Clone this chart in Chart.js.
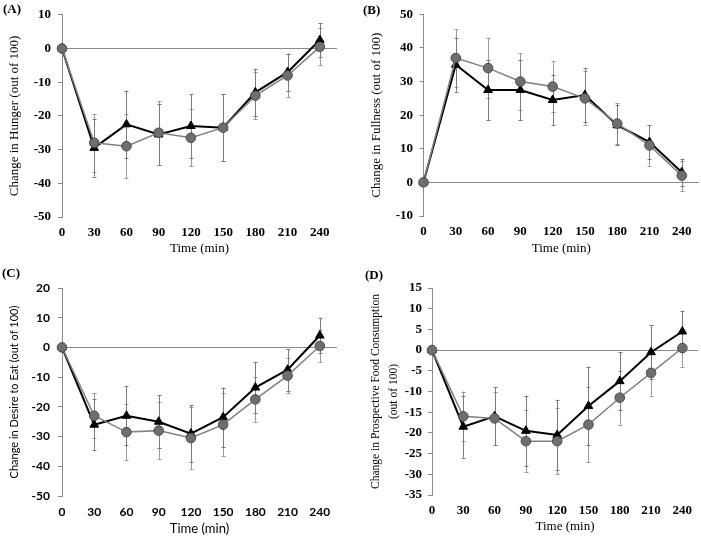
<!DOCTYPE html>
<html>
<head>
<meta charset="utf-8">
<script src="https://cdn.jsdelivr.net/npm/chart.js@4.4.1/dist/chart.umd.min.js"></script>
<style>
  html, body { margin:0; padding:0; background:#fff; }
  #wrap { position:relative; width:701px; height:538px; background:#fff; overflow:hidden; }
  canvas { position:absolute; }
  .pl { position:absolute; font:bold 13px "Liberation Serif", "Times New Roman", serif; color:#000; }
</style>
</head>
<body>
<div id="wrap">
  <canvas id="cA" width="350" height="268" style="left:0;top:0;width:350px;height:268px"></canvas>
  <canvas id="cB" width="351" height="268" style="left:350px;top:0;width:351px;height:268px"></canvas>
  <canvas id="cC" width="350" height="270" style="left:0;top:268px;width:350px;height:270px"></canvas>
  <canvas id="cD" width="351" height="270" style="left:350px;top:268px;width:351px;height:270px"></canvas>
  <div class="pl" style="left:3px;top:1px">(A)</div>
  <div class="pl" style="left:363px;top:2px">(B)</div>
  <div class="pl" style="left:2px;top:265px">(C)</div>
  <div class="pl" style="left:365px;top:267px">(D)</div>
</div>
<script>
// ---- data ----
const times = [0, 30, 60, 90, 120, 150, 180, 210, 240];

const hungerTri    = [0, -29.5, -22.5, -25.5, -23, -23.5, -13, -7, 2.5];
const hungerTriErr = [0, 8.5, 10, 9, 9.5, 10, 7, 5.5, 5];
const hungerCir    = [0, -28, -29, -25, -26.5, -23.5, -14, -8, 0.5];
const hungerCirErr = [0, 8.5, 9.5, 9.5, 8.5, 10, 7, 6.5, 5.5];

const fullTri    = [0, 35, 27.5, 27.5, 24.5, 26, 17, 12, 3];
const fullTriErr = [0, 8, 9, 9, 7.5, 8, 6, 5, 4];
const fullCir    = [0, 37, 34, 30, 28.5, 25, 17.5, 11, 2];
const fullCirErr = [0, 8.5, 9, 8.5, 7.5, 8, 6, 6, 4.5];

const desireTri    = [0, -26, -23, -25, -29, -23.5, -13.5, -7.5, 4];
const desireTriErr = [0, 8.5, 10, 9, 9.5, 10, 8.5, 7, 6];
const desireCir    = [0, -23, -28.5, -28, -30.5, -26, -17.5, -9.5, 0.5];
const desireCirErr = [0, 7.5, 9.5, 9.5, 10.5, 10.5, 7.5, 6, 5.5];

const pfcTri    = [0, -18.5, -16, -19.5, -20.5, -13.5, -7.5, -0.5, 4.5];
const pfcTriErr = [0, 7.5, 7, 8.5, 8.5, 9.5, 7, 6.5, 5];
const pfcCir    = [0, -16, -16.5, -22, -22, -18, -11.5, -5.5, 0.5];
const pfcCirErr = [0, 6, 6.5, 7.5, 8, 9, 6.5, 5.5, 4.5];

const yTicksA = { min: -50, max: 10, step: 10 };
const yTicksB = { min: -10, max: 50, step: 10 };
const yTicksC = { min: -50, max: 20, step: 10 };
const yTicksD = { min: -35, max: 15, step: 5 };

// ---- error bar plugin ----
const errorBars = {
  id: 'errorBars',
  beforeDatasetsDraw(chart) {
    const { ctx, scales: { x, y } } = chart;
    ctx.save();
    ctx.lineWidth = 1;
    chart.data.datasets.forEach(ds => {
      ctx.strokeStyle = ds.errColor;
      ds.data.forEach((pt, j) => {
        const e = ds.errors[j];
        if (!e) return;
        const px = Math.round(x.getPixelForValue(pt.x)) + 0.5;
        const yTop = y.getPixelForValue(pt.y + e);
        const yBot = y.getPixelForValue(pt.y - e);
        ctx.beginPath();
        ctx.moveTo(px, yTop); ctx.lineTo(px, yBot);
        ctx.moveTo(px - 2, Math.round(yTop) + 0.5); ctx.lineTo(px + 2, Math.round(yTop) + 0.5);
        ctx.moveTo(px - 2, Math.round(yBot) + 0.5); ctx.lineTo(px + 2, Math.round(yBot) + 0.5);
        ctx.stroke();
      });
    });
    ctx.restore();
  }
};

const SERIF = '"Liberation Serif", "Times New Roman", serif';
const SANS = 'Lato, "Open Sans", sans-serif';

function makePanel(id, cfg) {
  const toPts = arr => arr.map((v, i) => ({ x: times[i], y: v }));
  new Chart(document.getElementById(id), {
    type: 'line',
    data: {
      datasets: [
        {
          data: toPts(cfg.cir), errors: cfg.cirErr, errColor: '#9a9a9a',
          borderColor: '#808080', borderWidth: 1.5,
          pointStyle: 'circle', pointRadius: 4.8,
          pointBackgroundColor: '#6e6e6e', pointBorderColor: '#4a4a4a', pointBorderWidth: 1,
          tension: 0, clip: false
        },
        {
          data: toPts(cfg.tri), errors: cfg.triErr, errColor: '#7a7a7a',
          borderColor: '#000', borderWidth: 2,
          pointStyle: 'triangle', pointRadius: 5,
          pointBackgroundColor: '#000', pointBorderColor: '#000', pointBorderWidth: 1,
          tension: 0, clip: false
        }
      ]
    },
    options: {
      responsive: false,
      animation: false,
      devicePixelRatio: 1,
      layout: { autoPadding: false, padding: { left: 0, top: cfg.top, right: cfg.right, bottom: 0 } },
      plugins: { legend: { display: false }, tooltip: { enabled: false } },
      scales: {
        x: {
          type: 'linear', min: 0, max: cfg.xMax,
          afterBuildTicks: s => { s.ticks = times.map(v => ({ value: v })); },
          afterFit: s => { s.height = cfg.xH; },
          grid: { display: false, drawTicks: false },
          border: { display: false },
          ticks: { color: '#000', font: { family: cfg.tickFamily, size: cfg.tickSize, weight: 'bold' }, padding: cfg.xPad, maxRotation: 0, autoSkip: false },
          title: { display: true, text: 'Time (min)', color: '#000',
                   font: { family: cfg.titleFamily, size: 13 }, padding: { top: 0, bottom: cfg.xTitlePad } }
        },
        y: {
          min: cfg.y.min, max: cfg.y.max,
          afterFit: s => { s.width = cfg.left; },
          ticks: { stepSize: cfg.y.step, color: '#000', font: { family: cfg.tickFamily, size: cfg.tickSize, weight: 'bold' }, padding: cfg.yPad },
          grid: {
            drawOnChartArea: true, drawTicks: true, tickLength: 4,
            color: c => (c.tick && c.tick.value === 0) ? '#8a8a8a' : 'rgba(0,0,0,0)',
            tickColor: '#8a8a8a', lineWidth: 1
          },
          border: { display: true, color: '#8a8a8a', width: 1 },
          title: { display: true, text: cfg.yTitle, color: '#000',
                   font: { family: cfg.titleFamily, size: cfg.yTitleSize, lineHeight: cfg.yTitleLH || 1.2 },
                   padding: { top: cfg.yTitlePad, bottom: 0 } }
        }
      }
    },
    plugins: [errorBars]
  });
}

makePanel('cA', {
  tri: hungerTri, triErr: hungerTriErr, cir: hungerCir, cirErr: hungerCirErr,
  y: yTicksA, yTitle: 'Change in Hunger (out of 100)',
  top: 9, right: 13, left: 62, xH: 51, xMax: 256,
  tickFamily: SERIF, titleFamily: SERIF, tickSize: 13, yTitleSize: 13,
  xPad: 7.5, xTitlePad: 11.5, yPad: 7, yTitlePad: 7
});
makePanel('cB', {
  tri: fullTri, triErr: fullTriErr, cir: fullCir, cirErr: fullCirErr,
  y: yTicksB, yTitle: 'Change in Fullness (out of 100)',
  top: 9, right: 2, left: 73.5, xH: 52, xMax: 256,
  tickFamily: SERIF, titleFamily: SERIF, tickSize: 13, yTitleSize: 13,
  xPad: 7.5, xTitlePad: 11.5, yPad: 6.5, yTitlePad: 19
});
makePanel('cC', {
  tri: desireTri, triErr: desireTriErr, cir: desireCir, cirErr: desireCirErr,
  y: yTicksC, yTitle: 'Change in Desire to Eat (out of 100)',
  top: 20, right: 13, left: 62, xH: 42, xMax: 256,
  tickFamily: SANS, titleFamily: SANS, tickSize: 12, yTitleSize: 11,
  xPad: 9, xTitlePad: 1.5, yPad: 8, yTitlePad: 7.5
});
makePanel('cD', {
  tri: pfcTri, triErr: pfcTriErr, cir: pfcCir, cirErr: pfcCirErr,
  y: yTicksD, yTitle: ['Change in Prospective Food Consumption', '(out of 100)'],
  top: 20, right: 3, left: 82, xH: 43, xMax: 255,
  tickFamily: SERIF, titleFamily: SERIF, tickSize: 13, yTitleSize: 11.5, yTitleLH: 1.6,
  xPad: 7.5, xTitlePad: 4, yPad: 6, yTitlePad: 16.8
});
</script>
</body>
</html>
